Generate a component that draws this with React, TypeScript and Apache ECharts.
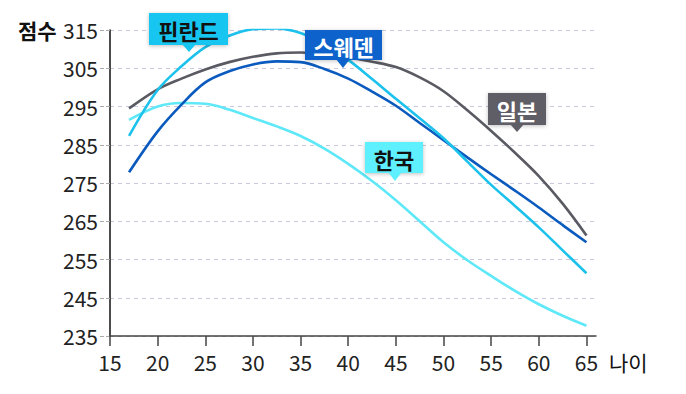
import React, { useEffect, useRef } from "react";
import * as echarts from "echarts";

const ages = [17, 20, 22.5, 25, 27.5, 30, 32.5, 35, 37.5, 40, 42.5, 45, 47.5, 50, 52.5, 55, 57.5, 60, 62.5, 65];
const finland = [287.3, 299.3, 305.5, 310.5, 313.5, 315.2, 315.4, 314.2, 311.3, 307.2, 302.2, 297.0, 291.9, 286.7, 280.6, 274.5, 269.0, 263.4, 257.4, 251.4];
const sweden = [277.8, 288.5, 295.5, 301.3, 304.2, 306.0, 306.8, 306.6, 304.8, 302.3, 298.9, 295.2, 290.7, 286.2, 281.7, 277.3, 273.0, 268.6, 264.0, 259.5];
const japan = [294.5, 299.5, 302.3, 304.7, 306.6, 308.0, 308.9, 309.1, 308.7, 307.8, 306.7, 305.3, 302.6, 299.0, 294.0, 288.6, 282.9, 276.8, 269.6, 261.3];
const korea = [291.5, 295.0, 295.9, 295.7, 294.2, 292.0, 289.8, 287.3, 284.0, 280.0, 275.5, 270.5, 265.0, 259.5, 254.8, 250.7, 246.8, 243.3, 240.3, 237.7];
const xTickValues = [15, 20, 25, 30, 35, 40, 45, 50, 55, 60, 65];
const yTickValues = [235, 245, 255, 265, 275, 285, 295, 305, 315];
const seriesNames = ["한국", "일본", "스웨덴", "핀란드"];
const yAxisTitle = "점수";
const xAxisTitle = "나이";

const FONT = "Noto Sans CJK KR, Noto Sans, sans-serif";

function pairs(vals: number[]) {
  return ages.map((a, i) => [a, vals[i]]);
}

function callout(
  x: number, y: number, w: number, h: number,
  tipX: number, tipY: number, bg: string, fg: string, text: string
) {
  return {
    type: "group",
    z: 100,
    children: [
      {
        type: "rect",
        shape: { x, y, width: w, height: h },
        style: { fill: bg, shadowBlur: 4, shadowColor: "rgba(0,0,0,0.25)", shadowOffsetY: 1 },
        z: 100,
      },
      {
        type: "polygon",
        shape: { points: [[tipX - 7, y + h - 1], [tipX + 7, y + h - 1], [tipX, tipY]] },
        style: { fill: bg },
        z: 100,
      },
      {
        type: "text",
        x: x + w / 2,
        y: y + h / 2 + 1,
        style: {
          text,
          fill: fg,
          align: "center",
          verticalAlign: "middle",
          fontSize: 22,
          fontWeight: "bold",
          fontFamily: FONT,
        },
        z: 101,
      },
    ],
  };
}

export default function App() {
  const ref = useRef<HTMLDivElement>(null);
  useEffect(() => {
    if (!ref.current) return;
    const chart = echarts.init(ref.current, null, { renderer: "svg" });
    const lineSeries = (name: string, data: number[], color: string) => ({
      name,
      type: "line",
      data: pairs(data),
      smooth: 0.35,
      showSymbol: false,
      symbol: "none",
      lineStyle: { color, width: 2.6 },
      itemStyle: { color },
    });
    chart.setOption({
      animation: false,
      backgroundColor: "#ffffff",
      grid: { left: 110, top: 30, right: 90, bottom: 58 },
      xAxis: {
        type: "value",
        min: 15,
        max: 66,
        interval: 5,
        axisLine: { lineStyle: { color: "#444", width: 1.5 } },
        axisTick: {
          show: true,
          length: 10,
          lineStyle: { color: "#444", width: 1.5 },
          customValues: xTickValues,
        },
        axisLabel: {
          color: "#222",
          fontSize: 21,
          fontFamily: FONT,
          margin: 15,
          customValues: xTickValues,
        },
        splitLine: { show: false },
      },
      yAxis: {
        type: "value",
        min: 235,
        max: 315,
        interval: 5,
        axisLine: { show: true, lineStyle: { color: "#111", width: 1.5 } },
        axisTick: {
          show: true,
          length: 10,
          lineStyle: { color: "#aaa", width: 1, type: "dashed" },
          customValues: yTickValues,
        },
        axisLabel: {
          color: "#222",
          fontSize: 21,
          fontFamily: FONT,
          margin: 12,
          customValues: yTickValues,
        },
        splitLine: {
          show: true,
          lineStyle: { color: "#c9c8dc", width: 1, type: [4, 4] },
        },
      },
      graphic: [
        {
          type: "text",
          x: 18,
          y: 30,
          style: {
            text: yAxisTitle,
            fill: "#111",
            fontSize: 21,
            fontWeight: "bold",
            fontFamily: FONT,
            verticalAlign: "middle",
          },
        },
        {
          type: "text",
          x: 609,
          y: 362,
          style: {
            text: xAxisTitle,
            fill: "#111",
            fontSize: 21,
            fontFamily: FONT,
            verticalAlign: "middle",
          },
        },
        callout(149, 13, 79, 32, 189, 52, "#18c6f1", "#111", seriesNames[3]),
        callout(305, 30, 77, 30, 343, 68, "#0b62cb", "#fff", seriesNames[2]),
        callout(488, 93, 58, 32, 517, 132, "#5e5d65", "#fff", seriesNames[1]),
        callout(365, 142, 58, 31, 395, 181, "#5ff0ff", "#111", seriesNames[0]),
      ],
      series: [
        lineSeries(seriesNames[0], korea, "#5ee8f8"),
        lineSeries(seriesNames[1], japan, "#5a5a63"),
        lineSeries(seriesNames[2], sweden, "#0b5bbe"),
        lineSeries(seriesNames[3], finland, "#1cc2ec"),
      ],
    });
    return () => chart.dispose();
  }, []);
  return (
    <div
      ref={ref}
      style={{ position: "fixed", left: 0, top: 0, width: 686, height: 394, background: "#fff" }}
    />
  );
}
